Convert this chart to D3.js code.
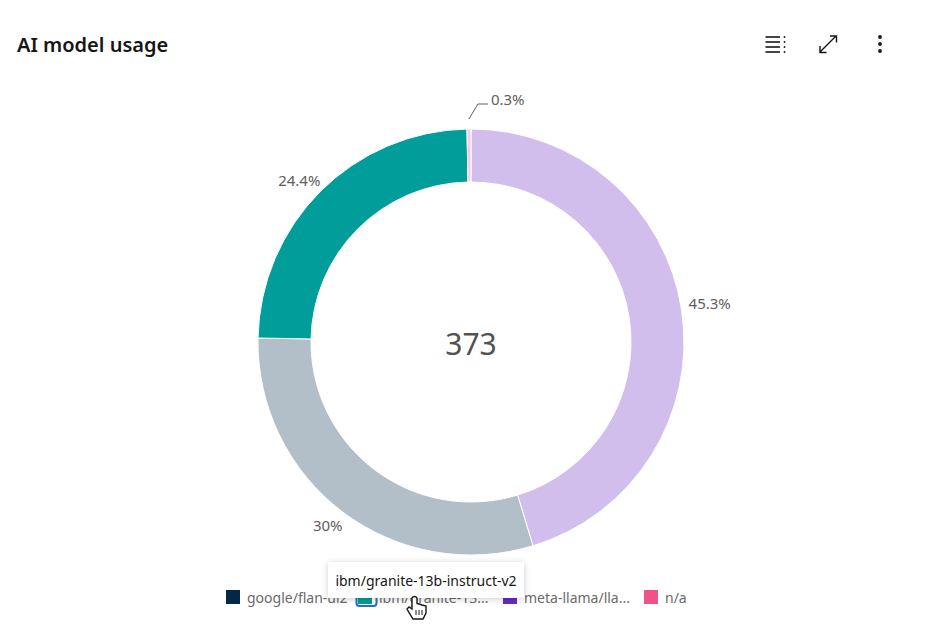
<!DOCTYPE html>
<html>
<head>
<meta charset="utf-8">
<script src="https://cdnjs.cloudflare.com/ajax/libs/d3/7.8.5/d3.min.js"></script>
<style>
body { margin: 0; background: #fff; }
text { font-family: "Noto Sans", sans-serif; }
</style>
</head>
<body>
<div id="chartContainer"></div>
<script>
var models = ["meta-llama/llama", "google/flan-ul2", "ibm/granite-13b-instruct-v2", "n/a"];
var percents = [45.3, 30, 24.4, 0.3];
var percentLabels = ["45.3%", "30%", "24.4%", "0.3%"];
var colors = ["#6929c4", "#012749", "#009d9a", "#ee538b"];
var legendOrder = ["google/flan-ul2", "ibm/granite-13b-instruct-v2", "meta-llama/llama", "n/a"];
var legendLabels = ["google/flan-ul2", "ibm/granite-13...", "meta-llama/lla...", "n/a"];
var totalLabel = "373";
var hovered = "ibm/granite-13b-instruct-v2";

var svg = d3.select("#chartContainer").append("svg")
	.attr("width", 945)
	.attr("height", 626)
	.style("display", "block");

var color = d3.scaleOrdinal().domain(models).range(colors);

//Title
svg.append("text")
	.attr("x", 17)
	.attr("y", 52)
	.style("font-size", "20px")
	.style("font-weight", 600)
	.style("fill", "#161616")
	.text("AI model usage");

//Toolbar icons
var icons = svg.append("g").style("stroke", "#161616").style("fill", "#161616");
[37, 42, 47, 52].forEach(function (y) {
	icons.append("line").attr("x1", 765.5).attr("x2", 780).attr("y1", y).attr("y2", y).style("stroke-width", 1.6);
	icons.append("circle").attr("cx", 784.5).attr("cy", y).attr("r", 0.9).style("stroke", "none");
});
icons.append("path")
	.attr("d", "M820 52L836 36M830 36H836.5V42.5M820 46V52.5H826.5")
	.style("fill", "none")
	.style("stroke-width", 1.4);
[37, 44, 51].forEach(function (y) {
	icons.append("circle").attr("cx", 880).attr("cy", y).attr("r", 1.9).style("stroke", "none");
});

//Donut
var cx = 471, cy = 342;
var outerR = 213, innerR = 160;

var pie = d3.pie().sort(null).value(function (d) { return d.value; });
var arc = d3.arc().innerRadius(innerR).outerRadius(outerR);

var slices = pie(models.map(function (m, i) {
	return { model: m, value: percents[i], label: percentLabels[i] };
}));

var donut = svg.append("g").attr("transform", "translate(" + cx + "," + cy + ")");

donut.selectAll("path.slice")
	.data(slices)
	.enter()
	.append("path")
	.attr("class", "slice")
	.attr("d", arc)
	.style("fill", function (d) { return color(d.data.model); })
	.style("fill-opacity", function (d) { return d.data.model == hovered ? 1 : 0.3; })
	.style("stroke", "#fff")
	.style("stroke-width", 1);

//Slice labels, right side sits a bit further out and higher
function midAngle(d) {
	return (d.startAngle + d.endAngle) / 2;
}
function labelX(d) {
	var gap = Math.sin(midAngle(d)) > 0 ? 7 : 0;
	return Math.sin(midAngle(d)) * (outerR + gap);
}
function labelY(d) {
	var lift = Math.sin(midAngle(d)) > 0 ? 5 : 0;
	return -Math.cos(midAngle(d)) * (outerR + 16) - lift;
}

donut.selectAll("text.sliceLabel")
	.data(slices.filter(function (d) { return d.data.value >= 1; }))
	.enter()
	.append("text")
	.attr("class", "sliceLabel")
	.attr("x", labelX)
	.attr("y", labelY)
	.attr("dominant-baseline", "central")
	.attr("text-anchor", function (d) { return labelX(d) > 0 ? "start" : "end"; })
	.style("font-size", "15px")
	.style("fill", "#5e5e5e")
	.text(function (d) { return d.data.label; });

//Small slice gets a leader line
var small = slices.filter(function (d) { return d.data.value < 1; })[0];
var lineStart = [Math.sin(midAngle(small)) * (outerR + 10), -Math.cos(midAngle(small)) * (outerR + 10)];
donut.append("path")
	.attr("d", "M" + lineStart[0] + "," + lineStart[1] + "L" + (lineStart[0] + 9) + "," + (lineStart[1] - 15) + "h10")
	.style("fill", "none")
	.style("stroke", "#5e5e5e")
	.style("stroke-width", 1);
donut.append("text")
	.attr("x", lineStart[0] + 22)
	.attr("y", lineStart[1] - 20)
	.attr("dominant-baseline", "central")
	.style("font-size", "15px")
	.style("fill", "#5e5e5e")
	.text(small.data.label);

//Center total
donut.append("text")
	.attr("y", 1)
	.attr("text-anchor", "middle")
	.attr("dominant-baseline", "central")
	.style("font-size", "30px")
	.style("fill", "#525252")
	.text(totalLabel);

//Legend
var legendX = d3.scaleOrdinal().domain(legendOrder).range([226, 358, 503, 644]);
var legendY = 590;

var legend = svg.selectAll("g.legendItem")
	.data(legendOrder)
	.enter()
	.append("g")
	.attr("class", "legendItem")
	.attr("transform", function (d) { return "translate(" + legendX(d) + "," + legendY + ")"; });

legend.append("rect")
	.attr("width", 14)
	.attr("height", 14)
	.style("fill", function (d) { return color(d); });

legend.append("text")
	.attr("x", 21)
	.attr("y", 7.5)
	.attr("dominant-baseline", "central")
	.style("font-size", "14px")
	.style("fill", "#6a6a6a")
	.text(function (d, i) { return legendLabels[i]; });

//Focus ring on hovered legend box
svg.append("rect")
	.attr("x", legendX(hovered) - 1.5)
	.attr("y", legendY - 2)
	.attr("width", 20)
	.attr("height", 18)
	.attr("rx", 3)
	.style("fill", "none")
	.style("stroke", "#1f6fd0")
	.style("stroke-width", 2);

//Tooltip
var tooltip = svg.append("g").attr("transform", "translate(328,562)");
tooltip.append("rect")
	.attr("width", 196)
	.attr("height", 36)
	.style("fill", "#fff")
	.style("filter", "drop-shadow(0 1px 3px rgba(0,0,0,0.2))");
tooltip.append("text")
	.attr("x", 98)
	.attr("y", 18)
	.attr("text-anchor", "middle")
	.attr("dominant-baseline", "central")
	.style("font-size", "14px")
	.style("fill", "#161616")
	.text(hovered);

//Hand cursor
svg.append("path")
	.attr("d", "M412 598V609L409 607L407 609L413 619H423L426 613V606L422 605L419 604L417 603.5V598C416 596 413 596 412 598Z")
	.style("fill", "#fff")
	.style("stroke", "#161616")
	.style("stroke-width", 1.4);
svg.append("path")
	.attr("d", "M416 610V615M419 610V615M422 610V615")
	.style("fill", "none")
	.style("stroke", "#161616")
	.style("stroke-width", 1);
</script>
</body>
</html>
